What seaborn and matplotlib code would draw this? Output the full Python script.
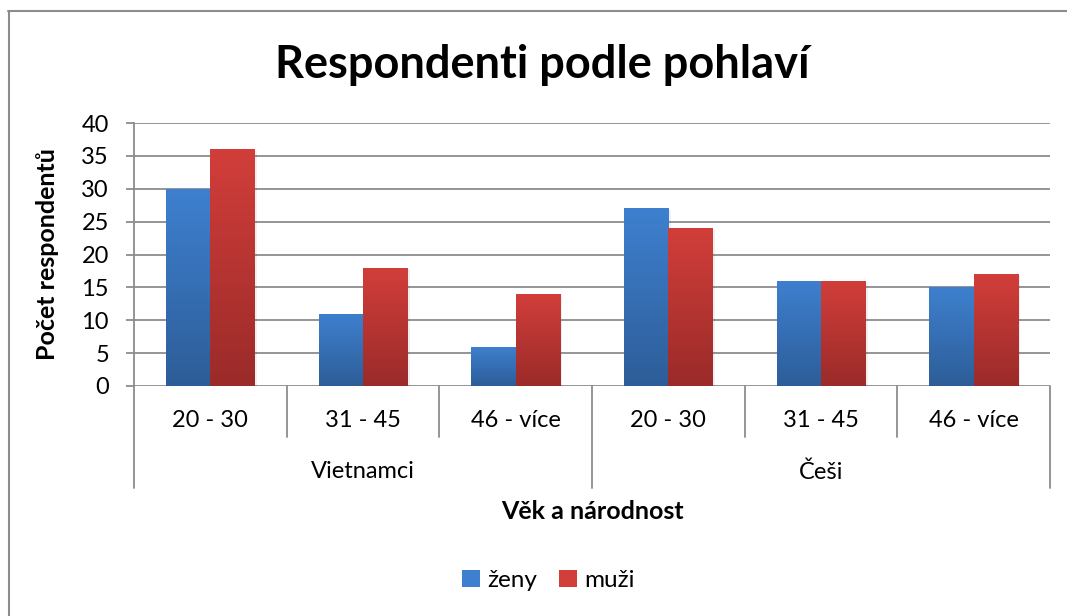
import numpy as np
import pandas as pd
import matplotlib
matplotlib.use("Agg")
import matplotlib.pyplot as plt
import seaborn as sns
from matplotlib.colors import LinearSegmentedColormap
from matplotlib.lines import Line2D
from matplotlib.patches import Patch

# data
narodnost = ["Vietnamci", "Vietnamci", "Vietnamci", "Češi", "Češi", "Češi"]
vek = ["20 - 30", "31 - 45", "46 - více", "20 - 30", "31 - 45", "46 - více"]
zeny = [30, 11, 6, 27, 16, 15]
muzi = [36, 18, 14, 24, 16, 17]
skupiny = ["Vietnamci", "Češi"]
pohlavi = ["ženy", "muži"]

klic = [f"{n}|{v}" for n, v in zip(narodnost, vek)]
df = pd.DataFrame({
    "klic": klic * 2,
    "pohlavi": ["ženy"] * 6 + ["muži"] * 6,
    "pocet": zeny + muzi,
})

# barvy (gradient shora dolu)
modra = ("#3e80cf", "#2d5d98")
cervena = ("#d23e3a", "#9a2b29")

sns.set_theme(style="white")
plt.rcParams["font.family"] = ["Lato", "DejaVu Sans"]
plt.rcParams["text.color"] = "black"
plt.rcParams["axes.labelcolor"] = "black"

fig = plt.figure(figsize=(10.67, 6.16), dpi=100)
ax = fig.add_axes([0.1256, 0.3734, 0.8585, 0.4269])

sns.barplot(data=df, x="klic", y="pocet", hue="pohlavi", order=klic,
            hue_order=pohlavi, palette=[modra[0], cervena[0]], width=0.58,
            legend=False, ax=ax, saturation=1)

# gradient v sloupcich
grad = np.linspace(0, 1, 256).reshape(-1, 1)
for cont, (top, bot) in zip(ax.containers, [modra, cervena]):
    cmap = LinearSegmentedColormap.from_list("g", [bot, top])
    for bar in cont:
        x0 = bar.get_x()
        w = bar.get_width()
        h = bar.get_height()
        # jemny stin vpravo
        ax.add_patch(plt.Rectangle((x0 + 0.015, 0), w, h - 0.2, color="#000000",
                                   alpha=0.06, lw=0, zorder=1.5))
        img = ax.imshow(grad, extent=[x0, x0 + w, 0, h], origin="lower",
                        cmap=cmap, aspect="auto", zorder=2.5)
        img.set_clip_path(bar)
        bar.set_facecolor("none")
        bar.set_edgecolor("none")

ax.set_xlim(-0.5, 5.5)
ax.set_ylim(0, 40)

# mrizka
ax.set_yticks(range(0, 41, 5))
ax.yaxis.grid(True, color="#8c8c8c", lw=1.3)
ax.set_axisbelow(True)
for s in ["top", "right", "bottom"]:
    ax.spines[s].set_visible(False)
ax.spines["left"].set_color("#8c8c8c")
ax.spines["left"].set_linewidth(1.3)
ax.tick_params(axis="y", length=6, width=1.3, color="#8c8c8c", pad=12,
               labelsize=17, labelcolor="black", left=True)
ax.set_xticks([])
ax.set_xlabel("")
ax.set_ylabel("Počet respondentů", fontsize=18, fontweight="bold")
ax.yaxis.set_label_coords(-0.082, 0.5)

# viceurovnova osa x
tr = ax.get_xaxis_transform()
for i in range(7):
    x = i - 0.5
    dolu = -0.388 if i in (0, 3, 6) else -0.194
    ax.plot([x, x], [0, dolu], color="#8c8c8c", lw=1.3, transform=tr,
            clip_on=False)
for i, v in enumerate(vek):
    ax.text(i, -0.133, v, transform=tr, ha="center", va="center", fontsize=17)
for j, g in enumerate(skupiny):
    ax.text(j * 3 + 1, -0.327, g, transform=tr, ha="center", va="center",
            fontsize=17)
ax.text(2.5, -0.479, "Věk a národnost", transform=tr, ha="center",
        va="center", fontsize=18, fontweight="bold")

# titulek
fig.text(0.508, 0.894, "Respondenti podle pohlaví", ha="center", va="center",
         fontsize=32.5, fontweight="bold")

# legenda
handles = [Patch(facecolor=modra[0], edgecolor="none"),
           Patch(facecolor=cervena[0], edgecolor="none")]
fig.legend(handles, pohlavi, loc="center", bbox_to_anchor=(0.514, 0.058),
           ncol=2, frameon=False, fontsize=17.5, handlelength=0.75,
           handleheight=0.75, handletextpad=0.3, columnspacing=0.9)

# ramecek grafu
fig.add_artist(Line2D([8.5 / 1067, 8.5 / 1067], [0, 1 - 11 / 616],
                      color="#8c8c8c", lw=1.5))
fig.add_artist(Line2D([8 / 1067, 1], [1 - 11 / 616, 1 - 11 / 616],
                      color="#8c8c8c", lw=1.5))

fig.savefig("out.png", dpi=100)
